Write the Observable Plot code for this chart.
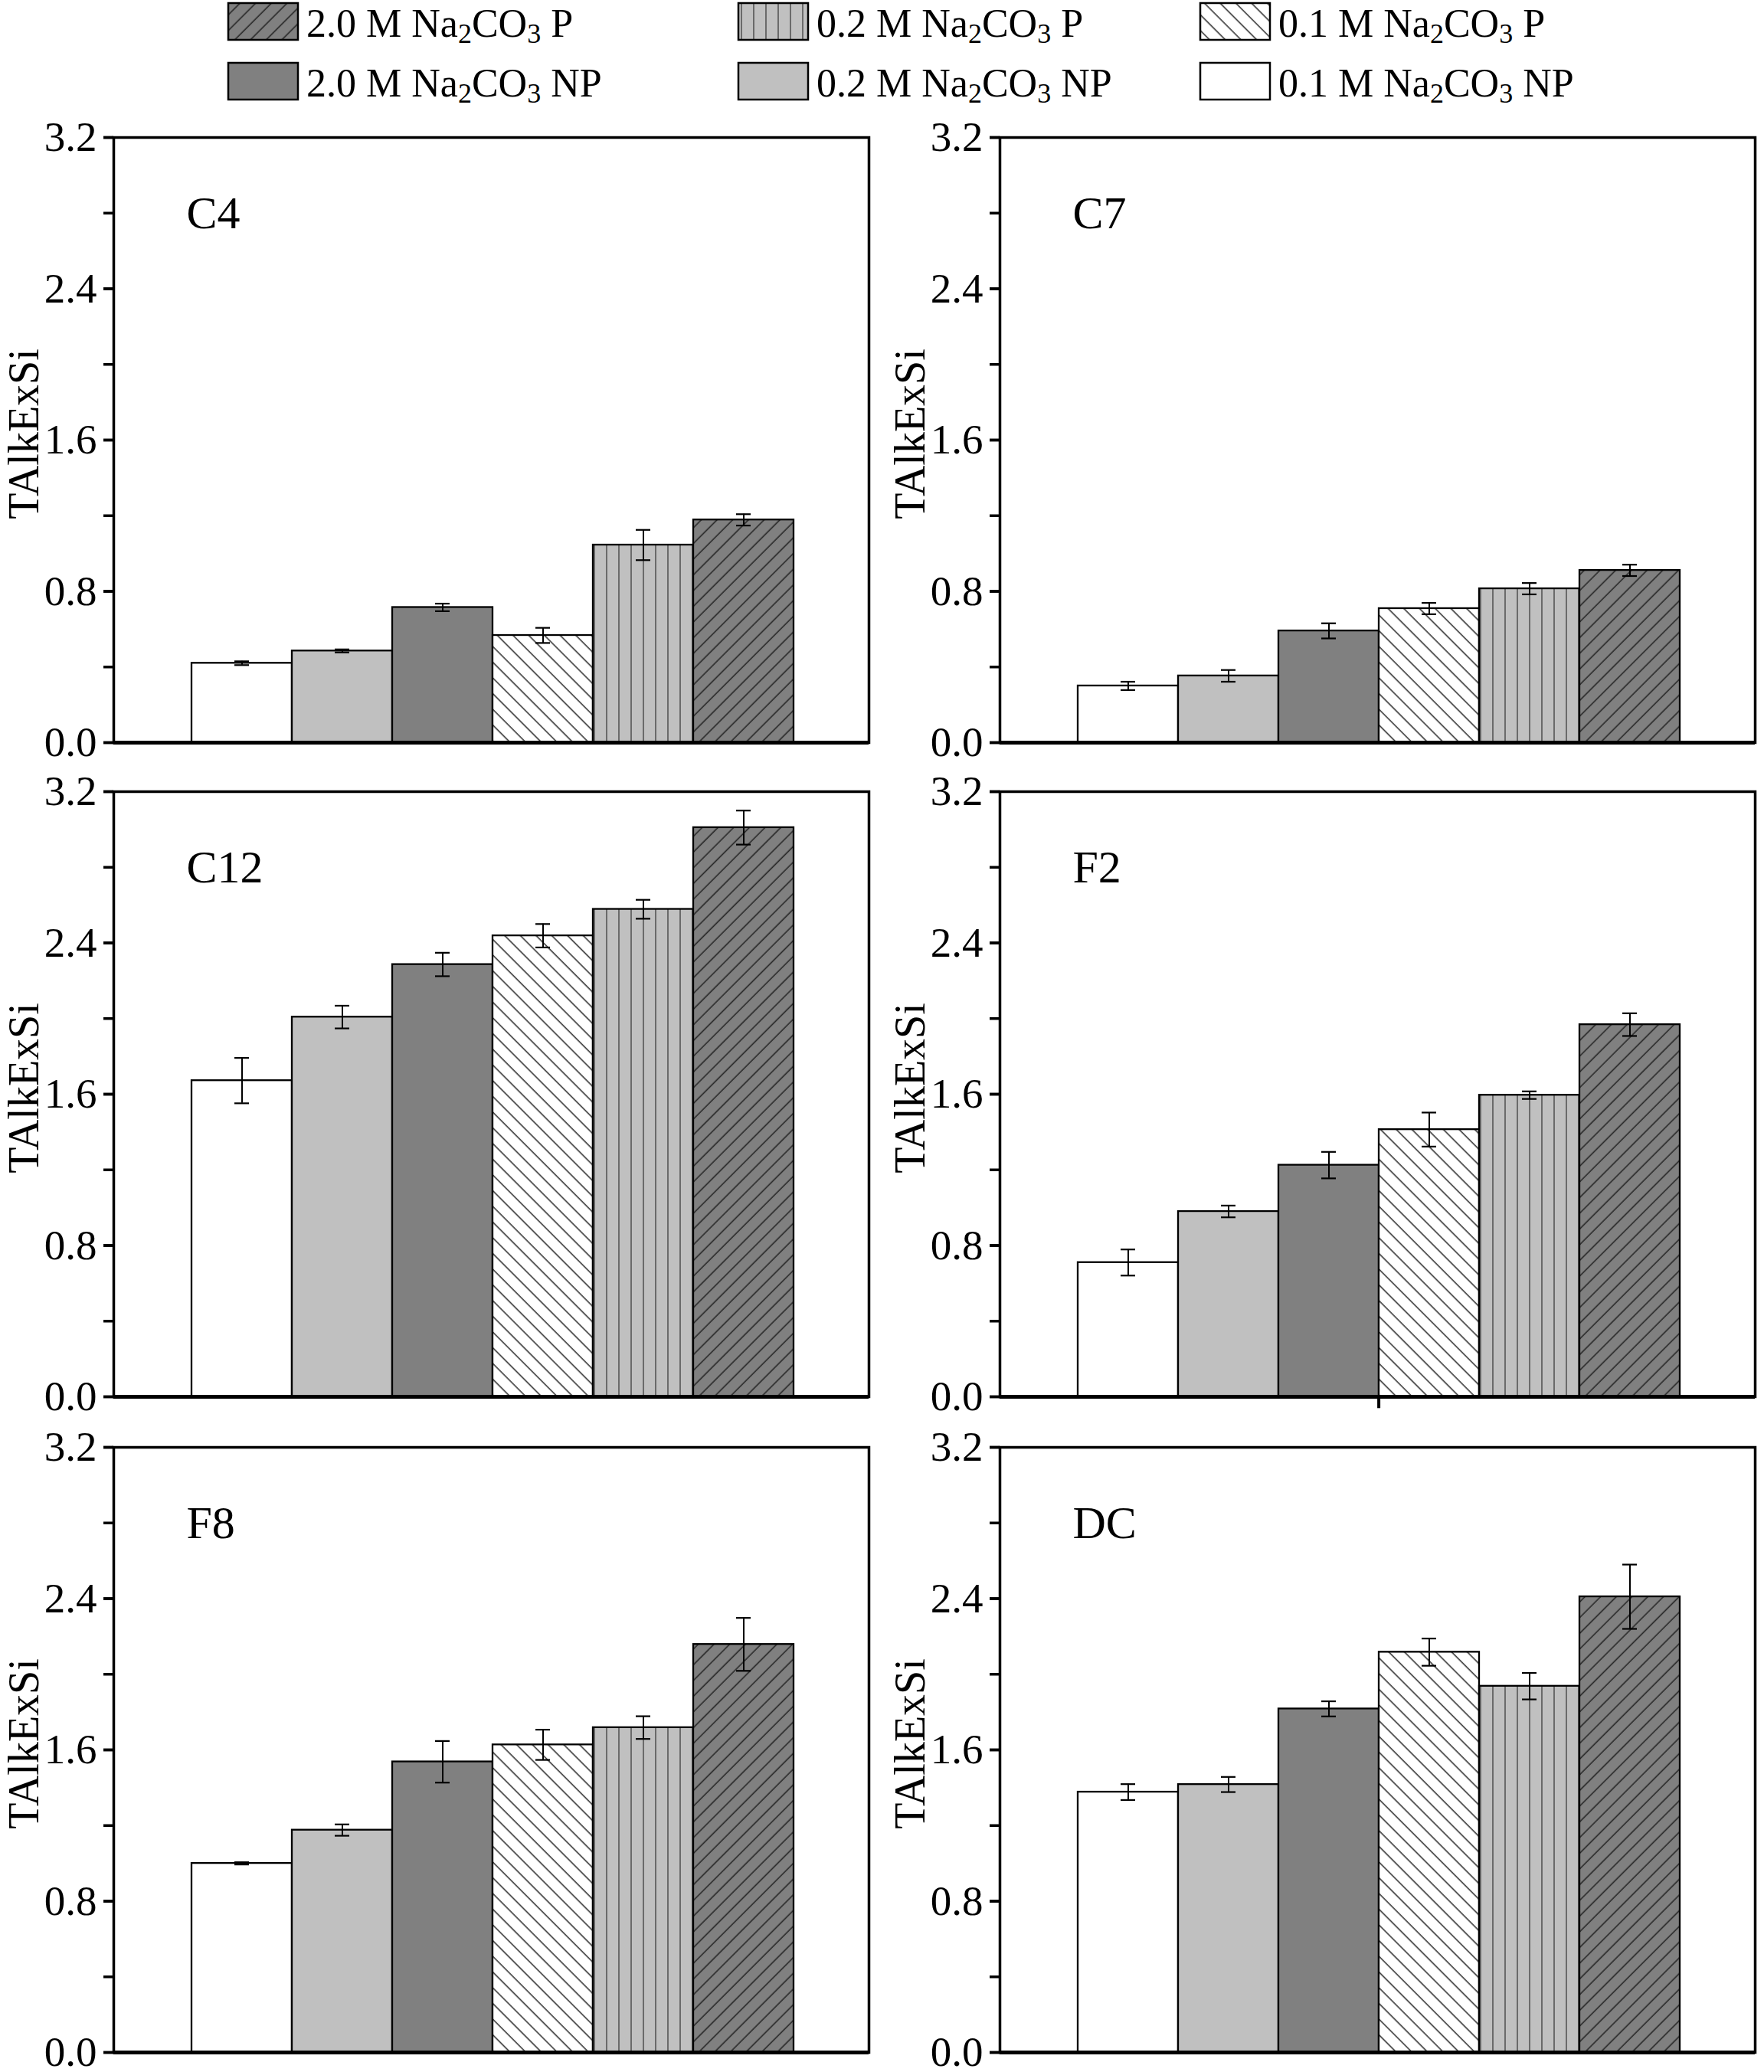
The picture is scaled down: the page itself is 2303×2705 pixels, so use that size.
<!DOCTYPE html>
<html><head><meta charset="utf-8">
<script src="https://cdn.jsdelivr.net/npm/d3@7"></script>
<script src="https://cdn.jsdelivr.net/npm/@observablehq/plot@0.6"></script>
<style>
html,body{margin:0;padding:0;background:#fff;overflow:hidden;}
#root{position:relative;width:2303px;height:2705px;font-family:"Liberation Serif","Times New Roman",serif;background:#fff;}
.panel{position:absolute;}
#legend{position:absolute;left:0;top:0;overflow:visible;}
</style></head><body><div id="root"></div>
<script>
// ---- data ----
const panels = ["C4", "C7", "C12", "F2", "F8", "DC"];
const series = ["0.1 M Na2CO3 NP", "0.2 M Na2CO3 NP", "2.0 M Na2CO3 NP", "0.1 M Na2CO3 P", "0.2 M Na2CO3 P", "2.0 M Na2CO3 P"];
const valuesC4  = [0.420, 0.485, 0.715, 0.567, 1.045, 1.178];
const errorsC4  = [0.010, 0.008, 0.020, 0.040, 0.080, 0.030];
const valuesC7  = [0.300, 0.353, 0.591, 0.709, 0.814, 0.911];
const errorsC7  = [0.022, 0.031, 0.040, 0.030, 0.030, 0.030];
const valuesC12 = [1.672, 2.008, 2.286, 2.438, 2.578, 3.010];
const errorsC12 = [0.120, 0.060, 0.062, 0.062, 0.050, 0.090];
const valuesF2  = [0.710, 0.980, 1.225, 1.413, 1.595, 1.968];
const errorsF2  = [0.069, 0.031, 0.070, 0.090, 0.020, 0.060];
const valuesF8  = [1.000, 1.176, 1.537, 1.627, 1.718, 2.158];
const errorsF8  = [0.006, 0.030, 0.110, 0.080, 0.060, 0.140];
const valuesDC  = [1.377, 1.417, 1.817, 2.117, 1.937, 2.410];
const errorsDC  = [0.042, 0.040, 0.040, 0.072, 0.070, 0.170];
const yMajorTicks = [0.0, 0.8, 1.6, 2.4, 3.2];
const yMinorTicks = [0.0, 0.4, 0.8, 1.2, 1.6, 2.0, 2.4, 2.8, 3.2];
const yLabel = "TAlkExSi";
const legendOrder = ["2.0 M Na2CO3 P", "0.2 M Na2CO3 P", "0.1 M Na2CO3 P", "2.0 M Na2CO3 NP", "0.2 M Na2CO3 NP", "0.1 M Na2CO3 NP"];

const panelValues = {C4: valuesC4, C7: valuesC7, C12: valuesC12, F2: valuesF2, F8: valuesF8, DC: valuesDC};
const panelErrors = {C4: errorsC4, C7: errorsC7, C12: errorsC12, F2: errorsF2, F8: errorsF8, DC: errorsDC};

// ---- styles ----
const fills = {
  "0.1 M Na2CO3 NP": "white",
  "0.2 M Na2CO3 NP": "#c0c0c0",
  "2.0 M Na2CO3 NP": "#808080",
  "0.1 M Na2CO3 P": "url(#hBack)",
  "0.2 M Na2CO3 P": "url(#hVert)",
  "2.0 M Na2CO3 P": "url(#hFwd)"
};
const FONT = "'Liberation Serif', 'Times New Roman', serif";
const root = document.getElementById("root");

// ---- legend (with pattern defs) ----
const legendCols = [298, 964, 1567];
const legendRows = [4, 82];
let lg = `<svg id="legend" width="2303" height="148" xmlns="http://www.w3.org/2000/svg" font-family="${FONT}">
<defs>
 <pattern id="hBack" patternUnits="userSpaceOnUse" width="14.5" height="14.5" patternTransform="rotate(-45)">
  <rect width="15" height="15" fill="white"/>
  <line x1="7" y1="-1" x2="7" y2="16" stroke="#333" stroke-width="1.6"/>
 </pattern>
 <pattern id="hFwd" patternUnits="userSpaceOnUse" width="14.5" height="14.5" patternTransform="rotate(45)">
  <rect width="15" height="15" fill="#808080"/>
  <line x1="7" y1="-1" x2="7" y2="16" stroke="#262626" stroke-width="1.6"/>
 </pattern>
 <pattern id="hVert" patternUnits="userSpaceOnUse" width="16" height="16">
  <rect width="16" height="16" fill="#c0c0c0"/>
  <line x1="8" y1="-1" x2="8" y2="17" stroke="#555" stroke-width="1.6"/>
 </pattern>
</defs>`;
legendOrder.forEach((s, i) => {
  const cx = legendCols[i % 3], ry = legendRows[Math.floor(i / 3)];
  const parts = s.split(" "); // ["2.0","M","Na2CO3","P"]
  lg += `<rect x="${cx}" y="${ry}" width="91" height="48" fill="${fills[s]}" stroke="black" stroke-width="2.5"/>`;
  lg += `<text x="${cx + 102}" y="${ry + 44}" font-size="52" fill="black">${parts[0]} ${parts[1]} Na<tspan font-size="36" dy="8">2</tspan><tspan dy="-8">CO</tspan><tspan font-size="36" dy="8">3</tspan><tspan dy="-8"> ${parts[3]}</tspan></text>`;
});
lg += `</svg>`;
root.insertAdjacentHTML("beforeend", lg);

// ---- panels ----
const frameW = 986, frameH = 790, mL = 148, mR = 12, mT = 30;
const colLeft = [0, 1157];
const rowFrameTop = [179, 1033, 1889];

function panelPlot(name, idx) {
  const vals = panelValues[name], errs = panelErrors[name];
  const data = series.map((s, i) => ({series: s, value: vals[i], err: errs[i]}));
  const row = Math.floor(idx / 2), col = idx % 2;
  const mB = row === 2 ? 26 : 30;
  const marks = [];
  series.forEach(s => marks.push(Plot.barY(data.filter(d => d.series === s), {
    x: "series", y: "value", fill: fills[s], stroke: "black", strokeWidth: 2.3
  })));
  marks.push(Plot.ruleX(data, {x: "series", y1: d => d.value - d.err, y2: d => d.value + d.err, stroke: "black", strokeWidth: 2}));
  marks.push(Plot.tickY(data, {x: "series", y: d => d.value + d.err, insetLeft: 56, insetRight: 56, stroke: "black", strokeWidth: 2.2}));
  marks.push(Plot.tickY(data, {x: "series", y: d => d.value - d.err, insetLeft: 56, insetRight: 56, stroke: "black", strokeWidth: 2.2}));
  marks.push(Plot.frame({stroke: "black", strokeWidth: 3.5}));
  marks.push(Plot.ruleY([0], {stroke: "black", strokeWidth: 5}));
  if (name === "F2") {
    marks.push(Plot.ruleX([series[3]], {y1: -0.062, y2: 0, dx: -65.9, stroke: "black", strokeWidth: 4}));
  }
  marks.push(Plot.axisY({ticks: yMinorTicks, tickFormat: () => "", label: null, tickSize: 13, stroke: "black", strokeWidth: 3.5}));
  marks.push(Plot.axisY({ticks: yMajorTicks, tickFormat: d => d.toFixed(1), label: null, tickSize: 13, tickPadding: 9,
    stroke: "black", strokeWidth: 3.5, fontSize: 55, fill: "black"}));
  marks.push(Plot.text([name], {frameAnchor: "top-left", dx: 95, dy: 118, lineAnchor: "bottom", textAnchor: "start",
    fontSize: 60, fill: "black"}));
  marks.push(Plot.text([yLabel], {frameAnchor: "left", dx: -99, dy: -8, rotate: -90, lineAnchor: "bottom",
    textAnchor: "middle", fontSize: 56, fill: "black"}));
  const svg = Plot.plot({
    width: mL + frameW + mR,
    height: mT + frameH + mB,
    marginLeft: mL, marginRight: mR, marginTop: mT, marginBottom: mB,
    x: {type: "band", domain: series, paddingInner: 0, paddingOuter: 0.742, align: 0.51, axis: null},
    y: {domain: [0, 3.2], label: null},
    style: {fontFamily: FONT, fontSize: "55px", background: "white", color: "black", overflow: "visible"},
    marks
  });
  svg.classList.add("panel");
  svg.style.position = "absolute";
  svg.style.left = colLeft[col] + "px";
  svg.style.top = (rowFrameTop[row] - mT) + "px";
  root.appendChild(svg);
}
panels.forEach((p, i) => panelPlot(p, i));
</script>
</body></html>
